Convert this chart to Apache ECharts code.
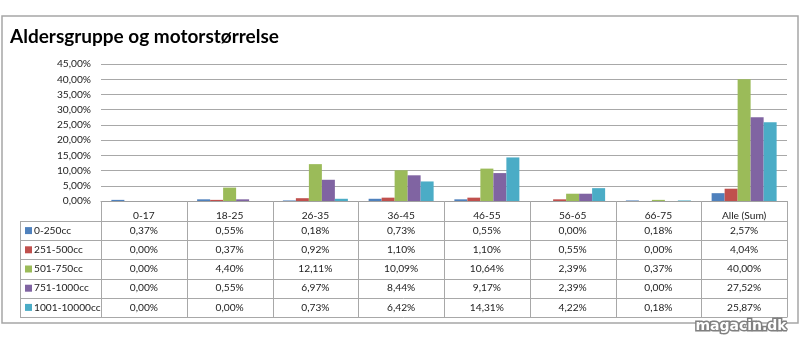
<!DOCTYPE html>
<html>
<head>
<meta charset="utf-8">
<script src="https://cdn.jsdelivr.net/npm/echarts@6/dist/echarts.min.js"></script>
<style>
html,body{margin:0;padding:0;background:#fff;}
#c{width:800px;height:338px;}
</style>
</head>
<body>
<div id="c"></div>
<script>
const titleText = 'Aldersgruppe og motorstørrelse';
const categories = ['0-17','18-25','26-35','36-45','46-55','56-65','66-75','Alle (Sum)'];
const seriesNames = ['0-250cc','251-500cc','501-750cc','751-1000cc','1001-10000cc'];
const colors = ['#4F81BD','#C0504D','#9BBB59','#8064A2','#4BACC6'];
const cc0_250 = [0.37,0.55,0.18,0.73,0.55,0.00,0.18,2.57];
const cc251_500 = [0.00,0.37,0.92,1.10,1.10,0.55,0.00,4.04];
const cc501_750 = [0.00,4.40,12.11,10.09,10.64,2.39,0.37,40.00];
const cc751_1000 = [0.00,0.55,6.97,8.44,9.17,2.39,0.00,27.52];
const cc1001_10000 = [0.00,0.00,0.73,6.42,14.31,4.22,0.18,25.87];
const seriesData = [cc0_250, cc251_500, cc501_750, cc751_1000, cc1001_10000];
const yMin = 0, yMax = 45, yStep = 5;

function pct(v){ return v.toFixed(2).replace('.', ',') + '%'; }

const FONT = 'Lato, sans-serif';
const FS = 10.2;
const chart = echarts.init(document.getElementById('c'));
const gridLeft = 101, gridRight = 13, gridTop = 64, gridBottom = 137;

chart.setOption({
  animation: false,
  backgroundColor: '#fff',
  title: {
    text: titleText, left: 5, top: 22,
    textStyle: {fontFamily: FONT, fontWeight: 'bold', fontSize: 19, color: '#000'}
  },
  grid: {left: gridLeft, right: gridRight, top: gridTop, bottom: gridBottom, containLabel: false},
  xAxis: {
    type: 'category', data: categories,
    axisLine: {show: true, lineStyle: {color: '#A0A0A0', width: 1}},
    axisTick: {show: false},
    axisLabel: {margin: 5, fontFamily: FONT, fontSize: FS, color: '#222', interval: 0, lineHeight: 19, verticalAlign: 'top'}
  },
  yAxis: {
    type: 'value', min: yMin, max: yMax, interval: yStep,
    axisLine: {show: false}, axisTick: {show: false},
    axisLabel: {formatter: pct, fontFamily: FONT, fontSize: FS, color: '#222', margin: 10},
    splitLine: {lineStyle: {color: '#A8A8A8', width: 1}}
  },
  series: seriesNames.map((n, i) => ({
    name: n, type: 'bar', data: seriesData[i], barWidth: 13, barGap: '0%',
    itemStyle: {color: colors[i]}
  }))
});

// Data table built from chart scales
const x0 = chart.convertToPixel({xAxisIndex: 0}, categories[0]);
const x1 = chart.convertToPixel({xAxisIndex: 0}, categories[1]);
const band = x1 - x0;
const axisY = chart.convertToPixel({yAxisIndex: 0}, 0);
const tableLeft = 20;
const plotRight = 800 - gridRight;
const headerH = 20, rowH = 19.2;
const lineCol = '#A8A8A8';
const g = [];
// outer border
g.push({type: 'rect', shape: {x: 2, y: 16, width: 796, height: 307}, style: {fill: 'none', stroke: '#A6A6A6', lineWidth: 1.5}, z: 1});
// horizontal table lines
for (let r = 0; r <= seriesNames.length; r++) {
  const y = Math.round(axisY + headerH + r * rowH) + 0.5;
  g.push({type: 'line', shape: {x1: tableLeft, y1: y, x2: plotRight, y2: y}, style: {stroke: lineCol, lineWidth: 1}, z: 5});
}
const tableBottom = Math.round(axisY + headerH + seriesNames.length * rowH) + 0.5;
// vertical lines
g.push({type: 'line', shape: {x1: tableLeft + 0.5, y1: axisY + headerH, x2: tableLeft + 0.5, y2: tableBottom}, style: {stroke: lineCol, lineWidth: 1}, z: 5});
for (let c = 0; c <= categories.length; c++) {
  const x = Math.round(x0 - band / 2 + c * band) + 0.5;
  g.push({type: 'line', shape: {x1: x, y1: axisY, x2: x, y2: tableBottom}, style: {stroke: lineCol, lineWidth: 1}, z: 5});
}
// rows
seriesNames.forEach((n, r) => {
  const cy = axisY + headerH + r * rowH + rowH / 2;
  g.push({type: 'rect', shape: {x: 25, y: cy - 3.5, width: 7, height: 7}, style: {fill: colors[r]}, z: 6});
  g.push({type: 'text', x: 34, y: cy, style: {text: n, fontFamily: FONT, fontSize: FS, fill: '#222', textVerticalAlign: 'middle', textAlign: 'left'}, z: 6});
  seriesData[r].forEach((v, c) => {
    const cx = chart.convertToPixel({xAxisIndex: 0}, categories[c]);
    g.push({type: 'text', x: cx, y: cy, style: {text: pct(v), fontFamily: FONT, fontSize: FS, fill: '#222', textVerticalAlign: 'middle', textAlign: 'center'}, z: 6});
  });
});
// watermark
g.push({type: 'text', x: 741, y: 326, style: {text: 'magacin.dk', fontFamily: '"DejaVu Sans", sans-serif', fontWeight: 'bold', fontSize: 14, fill: '#fff', stroke: '#808080', lineWidth: 3, textAlign: 'center', textVerticalAlign: 'middle'}, z: 10});
chart.setOption({graphic: g});
</script>
</body>
</html>
